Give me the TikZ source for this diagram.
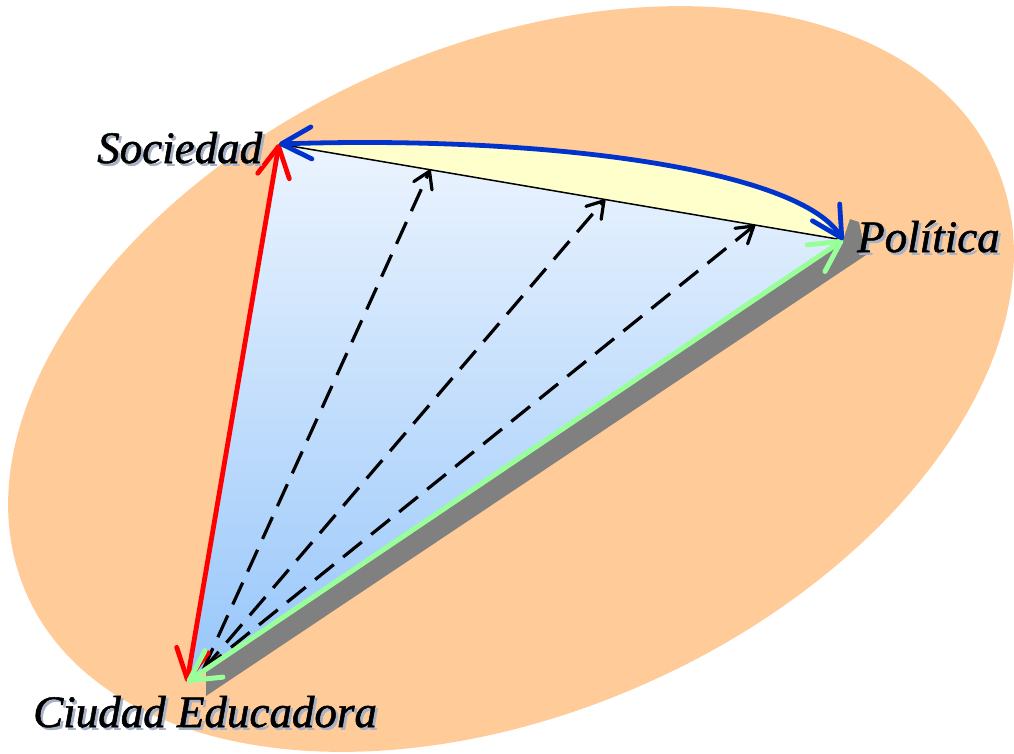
\documentclass[tikz,border=0pt]{standalone}
\usepackage{fontspec}
\setmainfont{Liberation Serif}
\newfontfamily\lblfont[FakeBold=1.2]{Liberation Serif}
\usetikzlibrary{arrows.meta,calc}
\definecolor{ellfill}{RGB}{255,204,153}
\definecolor{tritop}{RGB}{236,244,254}
\definecolor{tribot}{RGB}{150,198,250}
\definecolor{yelfill}{RGB}{255,255,204}
\definecolor{bluearr}{RGB}{0,51,204}
\definecolor{greenarr}{RGB}{153,255,153}
\definecolor{shadowgray}{RGB}{128,128,128}
\definecolor{txtshadow}{RGB}{168,178,198}
\newcommand{\shadowtext}[1]{\rlap{\hspace{2.5pt}\raisebox{-2.5pt}{\textcolor{txtshadow}{#1}}}#1}
\tikzset{
  bigtip/.style={>={Straight Barb[length=30pt,width=32pt,round]}},
  smalltip/.style={>={Straight Barb[length=16pt,width=20pt,round]}},
  redarrow/.style={draw=red,line width=4.8pt,bigtip,<->,line cap=round},
  bluearrow/.style={draw=bluearr,line width=4.8pt,bigtip,<->,line cap=round},
  greenarrow/.style={draw=greenarr,line width=5pt,bigtip,<->,line cap=round},
  dasharrow/.style={draw=black,line width=3.2pt,smalltip,->,dash pattern=on 24pt off 12pt},
  lbl/.style={inner sep=0pt,anchor=base west,font=\fontsize{45}{50}\selectfont\lblfont\itshape},
}
\begin{document}
\begin{tikzpicture}[x=1pt,y=-1pt]
\useasboundingbox (0,0) rectangle (1014,753);
% background ellipse
\fill[ellfill,rotate around={24:(511,379)}] (511,379) ellipse [x radius=530pt, y radius=333pt];
% key points
\coordinate (S) at (279,144);
\coordinate (P) at (843,240);
\coordinate (C) at (187,682);
% shadow
\fill[shadowgray] (206,669) -- (206,696) -- (866,255) -- (859,222) -- (850,219) -- (P) -- cycle;
% triangle
\shade[top color=tritop,bottom color=tribot] (S) -- (P) -- (C) -- cycle;
% yellow lens
\fill[yelfill] (S) .. controls (550,135) and (800,170) .. (P) -- cycle;
\draw[line width=1.5pt] (S) -- (P);
% dashed arrows
\coordinate (D0) at (203,670);
\coordinate (E1) at ($(S)!0.268!(P)$);
\coordinate (E2) at ($(S)!0.578!(P)$);
\coordinate (E3) at ($(S)!0.844!(P)$);
\draw[dasharrow] (D0) -- (E1);
\draw[dasharrow] (D0) -- (E2);
\draw[dasharrow] (D0) -- (E3);
% main arrows
\draw[redarrow] (C) -- (S);
\draw[greenarrow] (C) -- (P);
\draw[bluearrow] (S) .. controls (550,135) and (800,170) .. (P);
% labels
\node[lbl] (soc) at (97,163) {\shadowtext{Sociedad}};
\node[lbl] (pol) at (857,252) {\shadowtext{Política}};
\node[lbl] (ciud) at (33,727) {\shadowtext{Ciudad Educadora}};
\end{tikzpicture}
\end{document}
